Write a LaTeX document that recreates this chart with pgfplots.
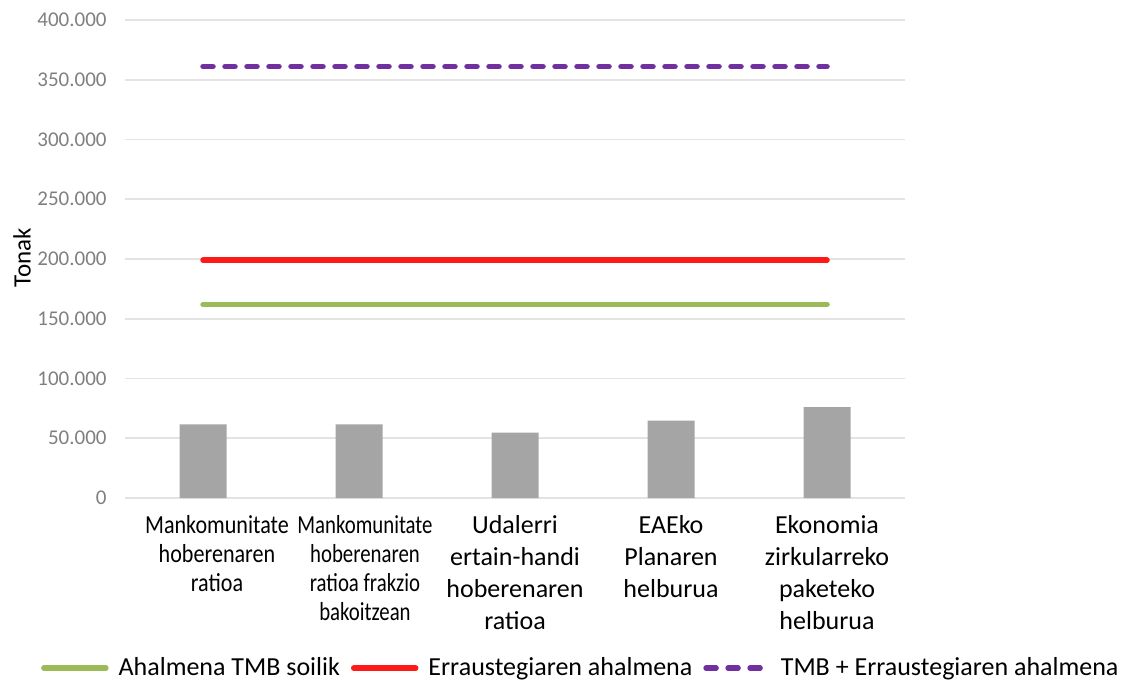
\documentclass[border=0pt]{standalone}
\usepackage{fontspec}
\setmainfont{Carlito}
\usepackage{pgfplots}
\pgfplotsset{compat=1.18}
\definecolor{barg}{HTML}{A5A5A5}
\definecolor{lgreen}{HTML}{9BBB59}
\definecolor{lred}{HTML}{FF1A1A}
\definecolor{lpurple}{HTML}{7030A0}
\definecolor{gridc}{HTML}{E3E3E3}
\definecolor{tickc}{HTML}{7F7F7F}
\newcommand{\cna}[1]{\hspace*{14pt}\scalebox{0.85}[1]{#1}}
\newcommand{\cnb}[1]{\hspace*{6pt}\scalebox{0.8}[1]{#1}}
\begin{document}
\begin{tikzpicture}
\useasboundingbox (0,0) rectangle (560.5pt,341pt);
\begin{axis}[
  at={(62.5pt,92pt)}, anchor=south west,
  scale only axis, width=390pt, height=239pt,
  xmin=-0.5, xmax=4.5, ymin=0, ymax=400000,
  ytick={0,50000,...,400000},
  xtick={0,1,2,3,4},
  xticklabels={
    {\cna{Mankomunitate}\\[-1.5pt]\cna{hoberenaren}\\[-1.5pt]\cna{ratioa}},
    {\cnb{Mankomunitate}\\[-1.5pt]\cnb{hoberenaren}\\[-1.5pt]\cnb{ratioa frakzio}\\[-1.5pt]\cnb{bakoitzean}},
    {Udalerri\\ertain-handi\\hoberenaren\\ratioa},
    {EAEko\\Planaren\\helburua},
    {Ekonomia\\zirkularreko\\paketeko\\helburua}},
  xticklabel style={align=center, anchor=north, inner sep=0pt, yshift=-8.5pt,
    font=\fontsize{13}{16}\selectfont, text=black},
  yticklabel style={anchor=east, inner sep=0pt, xshift=-9pt,
    font=\fontsize{10.5}{12}\selectfont, text=tickc},
  /pgf/number format/.cd, fixed, 1000 sep={.}, assume math mode=true,
  /pgfplots/.cd,
  scaled y ticks=false,
  major tick length=0pt,
  axis line style={draw=none},
  ymajorgrids, major grid style={gridc, line width=0.8pt},
  ylabel={Tonak},
  every axis y label/.style={at={(rel axis cs:-0.132,0.502)}, rotate=90, anchor=center,
    font=\fontsize{12.5}{14}\selectfont},
  legend columns=-1,
  legend style={draw=none, fill=none, at={(rel axis cs:0.585,-0.356)}, anchor=center,
    font=\fontsize{13}{15}\selectfont, inner sep=0pt,
    nodes={inner sep=1.5pt},
    /tikz/every odd column/.append style={column sep=3.5pt},
    /tikz/every even column/.append style={column sep=4pt}},
  legend image code/.code={\draw[#1] (0pt,0pt) -- (31pt,0pt);},
]
\addplot[ybar, bar width=23.5pt, fill=barg, draw=none, forget plot]
  coordinates {(0,61700) (1,61700) (2,54700) (3,64800) (4,76000)};
\addplot[lgreen, line width=2.75pt, line cap=round]
  coordinates {(0,162000) (1,162000) (2,162000) (3,162000) (4,162000)};
\addlegendentry{Ahalmena TMB soilik}
\addplot[lred, line width=2.75pt, line cap=round]
  coordinates {(0,199000) (1,199000) (2,199000) (3,199000) (4,199000)};
\addlegendentry{Erraustegiaren ahalmena}
\addplot[lpurple, line width=2.75pt, line cap=round, dash pattern=on 5pt off 6pt]
  coordinates {(0,361000) (1,361000) (2,361000) (3,361000) (4,361000)};
\addlegendentry{TMB + Erraustegiaren ahalmena}
\end{axis}
\end{tikzpicture}
\end{document}
